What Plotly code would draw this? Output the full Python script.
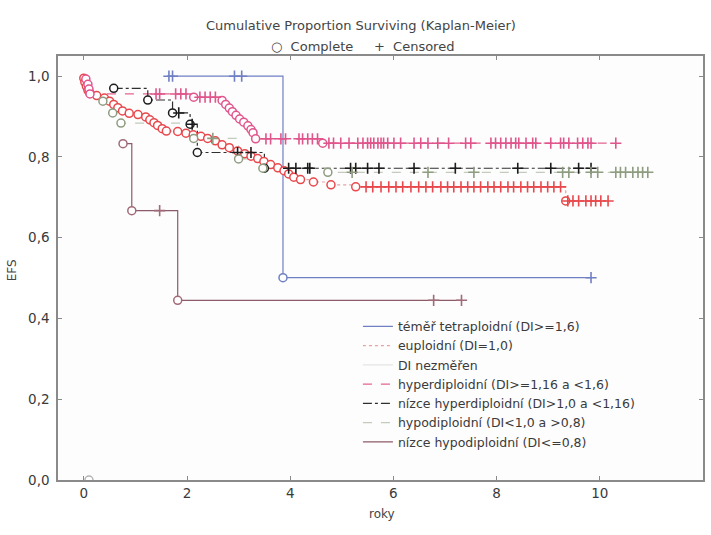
import plotly.graph_objects as go

# ---------------- data ----------------
# each series: times (roky), survival (EFS), event flag (1 = complete/event, 0 = censored)
tetra_t = [1.65, 1.72, 2.92, 3.06, 3.86, 9.83]
tetra_s = [1.0, 1.0, 1.0, 1.0, 0.501, 0.501]
tetra_e = [0, 0, 0, 0, 1, 0]

eu_t = [0.00, 0.02, 0.05, 0.08, 0.12, 0.25, 0.40, 0.50, 0.58, 0.66, 0.75, 0.88, 1.05,
        1.20, 1.28, 1.36, 1.43, 1.52, 1.60, 1.82, 1.98, 2.12, 2.27, 2.40, 2.55, 2.68,
        2.82, 2.98, 3.12, 3.24, 3.37, 3.49, 3.62, 3.76, 3.88, 3.97, 4.07, 4.20, 4.45,
        4.79, 5.27,
        5.47, 5.60, 5.76, 5.91, 6.05, 6.18, 6.34, 6.49, 6.63, 6.76, 6.92, 7.05, 7.17,
        7.31, 7.44, 7.56, 7.69, 7.83, 7.95, 8.08, 8.22, 8.33, 8.47, 8.60, 8.72, 8.86,
        8.99, 9.11, 9.24, 9.34,
        9.38, 9.48, 9.59, 9.73, 9.83, 9.92, 10.02, 10.16, 10.35]
eu_s = [0.995, 0.985, 0.975, 0.965, 0.958, 0.952, 0.946, 0.938, 0.930, 0.922, 0.914,
        0.908, 0.905, 0.899, 0.892, 0.885, 0.878, 0.870, 0.864, 0.863, 0.859, 0.855,
        0.851, 0.846, 0.840, 0.830, 0.823, 0.815, 0.808, 0.802, 0.796, 0.789, 0.781,
        0.773, 0.766, 0.758, 0.750, 0.744, 0.738, 0.731, 0.726] + [0.726] * 29 + [0.691] * 9
eu_e = [1] * 41 + [0] * 29 + [1] + [0] * 8

nez_t = [0.10]
nez_s = [0.0]
nez_e = [1]

hyper_t = [0.04, 0.08, 0.10, 0.12, 1.40, 1.47, 1.78, 1.88, 1.98, 2.13, 2.25, 2.35, 2.45,
           2.55, 2.68, 2.75, 2.82, 2.88, 2.95, 3.02, 3.10, 3.18, 3.24, 3.28, 3.33,
           3.53, 3.62, 3.82, 3.91, 4.17, 4.24, 4.34, 4.43, 4.53, 4.63,
           4.75, 4.84, 4.98, 5.14, 5.31, 5.41, 5.50, 5.56, 5.62, 5.70, 5.76, 5.81,
           5.89, 6.01, 6.14, 6.40, 6.53, 6.67, 6.86, 7.07, 7.40, 7.50, 7.89, 7.98,
           8.08, 8.18, 8.28, 8.37, 8.43, 8.57, 8.70, 8.76, 9.05, 9.24, 9.30, 9.40,
           9.57, 9.67, 9.77, 9.83, 10.31]
hyper_s = [0.993, 0.980, 0.968, 0.956, 0.956, 0.956, 0.956, 0.956, 0.956, 0.948, 0.948,
           0.948, 0.948, 0.948, 0.940, 0.930, 0.921, 0.912, 0.903, 0.894, 0.886, 0.877,
           0.868, 0.860, 0.845] + [0.845] * 9 + [0.834] + [0.834] * 41
hyper_e = [1, 1, 1, 1, 0, 0, 0, 0, 0, 1, 0, 0, 0, 0, 1, 1, 1, 1, 1, 1, 1, 1, 1, 1, 1] \
          + [0] * 9 + [1] + [0] * 41

nhyper_t = [0.58, 1.24, 1.72, 1.84, 2.06, 2.10, 2.20, 2.98, 3.24, 3.50, 3.97, 4.11, 4.34,
            4.38, 5.17, 5.27, 5.50, 5.72, 6.40, 7.20, 8.41, 9.05, 9.59, 9.83]
nhyper_s = [0.970, 0.941, 0.909, 0.909, 0.881, 0.881, 0.811, 0.811, 0.811, 0.772] + [0.772] * 14
nhyper_e = [1, 1, 1, 0, 1, 0, 1, 0, 0, 1] + [0] * 14

hypo_t = [0.37, 0.56, 0.72, 2.13, 2.50, 3.00, 3.47, 4.73, 5.20, 6.67, 7.56, 9.28, 9.40,
          9.83, 9.96, 10.31, 10.40, 10.50, 10.64, 10.74, 10.83, 10.93]
hypo_s = [0.938, 0.909, 0.884, 0.846, 0.846, 0.795, 0.772, 0.762] + [0.762] * 14
hypo_e = [1, 1, 1, 1, 0, 1, 1, 1] + [0] * 14

nhypo_t = [0.76, 0.93, 1.47, 1.82, 6.78, 7.32]
nhypo_s = [0.833, 0.667, 0.667, 0.445, 0.445, 0.445]
nhypo_e = [1, 1, 0, 1, 0, 0]

names = ["téměř tetraploidní (DI>=1,6)",
         "euploidní (DI=1,0)",
         "DI nezměřen",
         "hyperdiploidní (DI>=1,16 a <1,6)",
         "nízce hyperdiploidní (DI>1,0 a <1,16)",
         "hypodiploidní (DI<1,0 a >0,8)",
         "nízce hypodiploidní (DI<=0,8)"]

x_ticks = [0, 2, 4, 6, 8, 10, 12]
y_ticks = [0.0, 0.2, 0.4, 0.6, 0.8, 1.0]
y_ticklabels = ["0,0", "0,2", "0,4", "0,6", "0,8", "1,0"]

# ---------------- styling ----------------
series = [
    (tetra_t, tetra_s, tetra_e, "#7080c4", "#7080c4", "solid"),
    (eu_t, eu_s, eu_e, "#e9a0a6", "#e8484c", "dot"),
    (nez_t, nez_s, nez_e, "#e4e4e4", "#b4b4b4", "solid"),
    (hyper_t, hyper_s, hyper_e, "#e4648e", "#e0558c", "dash"),
    (nhyper_t, nhyper_s, nhyper_e, "#303030", "#1c1c1c", "dashdot"),
    (hypo_t, hypo_s, hypo_e, "#c4cabc", "#8e9c80", "dash"),
    (nhypo_t, nhypo_s, nhypo_e, "#8c5a68", "#a06a78", "solid"),
]

FONT = "DejaVu Sans, Liberation Sans, Arial, sans-serif"
TXT = "#3a3a3a"
fig = go.Figure()

# line traces (these form the legend)
for name, (t, s, e, lc, mc, dash) in zip(names, series):
    fig.add_trace(go.Scatter(x=t, y=s, mode="lines", name=name,
                             line=dict(color=lc, width=1.2, dash=dash, shape="hv"),
                             hoverinfo="skip"))

# marker traces: complete (open circle) and censored (+)
for name, (t, s, e, lc, mc, dash) in zip(names, series):
    ct = [a for a, f in zip(t, e) if f == 1]
    cs = [b for b, f in zip(s, e) if f == 1]
    pt = [a for a, f in zip(t, e) if f == 0]
    ps = [b for b, f in zip(s, e) if f == 0]
    fig.add_trace(go.Scatter(x=ct, y=cs, mode="markers", showlegend=False,
                             marker=dict(symbol="circle", size=8, color="white",
                                         line=dict(color=mc, width=1.5))))
    fig.add_trace(go.Scatter(x=pt, y=ps, mode="markers", showlegend=False,
                             marker=dict(symbol="cross-thin", size=8,
                                         line=dict(color=mc, width=1.6))))

axis_common = dict(showline=True, linecolor="#8a8a8a", linewidth=1.5, mirror="ticks",
                   ticks="inside", ticklen=4, tickcolor="#8a8a8a", showgrid=False,
                   zeroline=False, tickfont=dict(family=FONT, size=13.5, color=TXT))

fig.update_layout(
    width=711, height=535,
    margin=dict(l=58, r=6, t=56, b=55),
    paper_bgcolor="white", plot_bgcolor="#fdfdfd",
    font=dict(family=FONT, color=TXT),
    xaxis=dict(range=[-0.5, 12], tickvals=x_ticks, ticktext=[str(v) for v in x_ticks],
               **axis_common),
    yaxis=dict(range=[0, 1.05], tickvals=y_ticks, ticktext=y_ticklabels,
               ticklabelstandoff=4, **axis_common),
    legend=dict(x=0.465, y=0.397, xanchor="left", yanchor="top",
                bgcolor="rgba(0,0,0,0)", font=dict(family=FONT, size=12.5, color=TXT),
                tracegroupgap=0, itemwidth=30),
    showlegend=True,
    annotations=[
        dict(text="Cumulative Proportion Surviving (Kaplan-Meier)", x=0.47, y=1.094,
             xref="paper", yref="paper", xanchor="center", showarrow=False,
             font=dict(family=FONT, size=13, color="#444444")),
        dict(text="○  Complete     +  Censored", x=0.472, y=1.045,
             xref="paper", yref="paper", xanchor="center", showarrow=False,
             font=dict(family=FONT, size=13, color="#444444")),
        dict(text="EFS", x=-0.071, y=0.495, xref="paper", yref="paper", showarrow=False,
             xanchor="center", yanchor="middle",
             textangle=-90, font=dict(family=FONT, size=12, color="#444444")),
        dict(text="roky", x=0.502, y=-0.101, xref="paper", yref="paper", showarrow=False,
             xanchor="center", font=dict(family=FONT, size=12, color="#444444")),
    ],
)

fig.write_html("out.html")
